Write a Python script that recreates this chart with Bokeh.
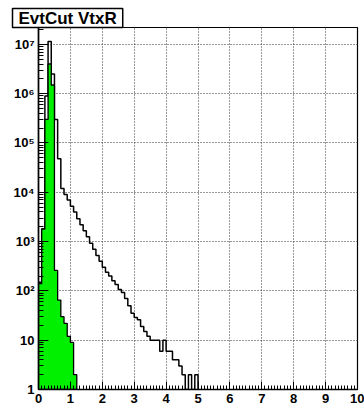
import numpy as np
from bokeh.plotting import figure
from bokeh.models import Range1d, FixedTicker, Title
from bokeh.embed import file_html
from bokeh.resources import INLINE

# ---- data ----
bin_width = 0.1
total_counts = [150, 1800, 900000, 11500000, 2500000, 300000, 48000, 12000, 9000, 7000,
                5200, 4000, 2900, 2200, 1650, 1250, 930, 700, 520, 400,
                300, 240, 200, 160, 135, 107, 93, 70, 50, 35,
                29, 26, 19, 15, 12, 10, 10, 10, 6, 10,
                6, 6, 4, 4, 3, 2, 1, 2, 1, 2]
selected_counts = [140, 1800, 300000, 4000000, 1500000, 260, 65, 30, 22, 12, 9, 2]
x_tick_values = [0, 1, 2, 3, 4, 5, 6, 7, 8, 9, 10]
y_tick_values = [1, 10, 100, 1000, 10000, 100000, 1000000, 10000000]
y_tick_labels = ["1", "10", "10²", "10³", "10⁴", "10⁵", "10⁶", "10⁷"]
title_text = "EvtCut VtxR"


def step_path(counts):
    c = np.maximum(np.asarray(counts, dtype=float), 1.0)
    edges = np.arange(len(c) + 1) * bin_width
    xs = np.concatenate([[edges[0]], np.repeat(edges, 2)[1:-1], [edges[-1]]])
    ys = np.concatenate([[1.0], np.repeat(c, 2), [1.0]])
    return xs, ys


FONT = "Liberation Sans"

title = Title(text=title_text, align="left", offset=-26, standoff=0,
              text_font=FONT, text_font_style="bold", text_font_size="17px",
              text_color="black", background_fill_color="white",
              border_line_color="black", border_line_width=1.5, padding=(6, 0))

p = figure(width=364, height=414, x_range=Range1d(0, 10), y_range=Range1d(1, 2.2e7),
           y_axis_type="log", output_backend="svg", toolbar_location=None,
           title=title,
           min_border_left=38, min_border_right=7, min_border_top=27, min_border_bottom=25)
p.background_fill_color = "white"
p.border_fill_color = "white"
p.outline_line_color = "black"
p.outline_line_width = 1.2

# axes / ticks
p.xaxis.ticker = FixedTicker(ticks=x_tick_values,
                             minor_ticks=[i * bin_width for i in range(0, 101)])
minor_y = [m * d for d in y_tick_values[:-1] for m in range(2, 10)] + [2e7]
p.yaxis.ticker = FixedTicker(ticks=y_tick_values, minor_ticks=minor_y)
p.yaxis.major_label_overrides = {v: s for v, s in zip(y_tick_values, y_tick_labels)}

for ax in (p.xaxis[0], p.yaxis[0]):
    ax.axis_line_color = "black"
    ax.axis_line_width = 1.6
    ax.major_tick_out = 0
    ax.minor_tick_out = 0
    ax.major_tick_line_color = "black"
    ax.minor_tick_line_color = "black"
    ax.major_label_text_font = FONT
    ax.major_label_text_font_style = "bold"
    ax.major_label_text_font_size = "13px"
    ax.major_label_text_color = "black"
p.xaxis.major_tick_in = 8
p.xaxis.minor_tick_in = 4
p.xaxis.major_label_standoff = 4
p.yaxis.major_tick_in = 10
p.yaxis.minor_tick_in = 5
p.yaxis.major_label_standoff = 4

for g in (p.xgrid[0], p.ygrid[0]):
    g.grid_line_color = "#333333"
    g.grid_line_dash = "1 2"
    g.grid_line_width = 1

# histograms
tx, ty = step_path(total_counts)
p.line(tx, ty, line_color="black", line_width=1.5)
sx, sy = step_path(selected_counts)
p.patch(sx, sy, fill_color="#00f000", line_color="black", line_width=1.3)

open("out.html", "w").write(file_html(p, INLINE))
